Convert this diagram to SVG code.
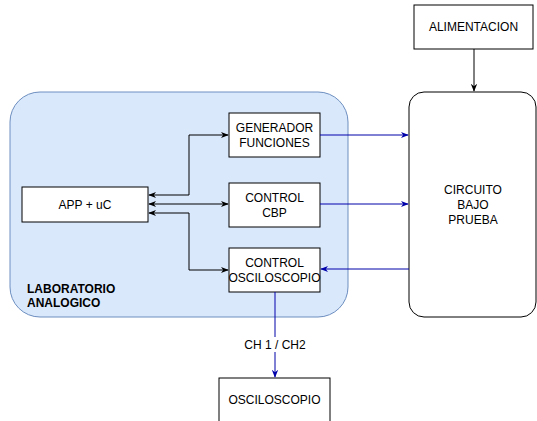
<svg xmlns="http://www.w3.org/2000/svg" width="537" height="421" viewBox="0 0 537 421">
<defs>
<style>
text{font-family:"Liberation Sans",Arial,sans-serif;font-size:12px;fill:#000;text-anchor:middle}
.box{fill:#fff;stroke:#000;stroke-width:1}
.blk{fill:none;stroke:#000;stroke-width:1}
.blu{fill:none;stroke:#0000aa;stroke-width:1}
</style>
<marker id="ab" viewBox="0 0 10 10" refX="9" refY="5" markerWidth="8" markerHeight="8" orient="auto-start-reverse" markerUnits="userSpaceOnUse"><path d="M0,1 L10,5 L0,9 L3,5 Z" fill="#000"/></marker>
<marker id="au" viewBox="0 0 10 10" refX="9" refY="5" markerWidth="8" markerHeight="8" orient="auto-start-reverse" markerUnits="userSpaceOnUse"><path d="M0,1 L10,5 L0,9 L3,5 Z" fill="#0000aa"/></marker>
</defs>
<rect width="537" height="421" fill="#fff"/>
<g id="lab">
<rect x="10" y="92" width="338" height="225" rx="30" fill="#dae8fc" stroke="#6c8ebf"/>
<text x="27" y="293" style="font-weight:bold;text-anchor:start">LABORATORIO</text>
<text x="27" y="307" style="font-weight:bold;text-anchor:start">ANALOGICO</text>
</g>
<g id="app"><rect class="box" x="22" y="187" width="126" height="35"/><text x="85" y="209">APP + uC</text></g>
<g id="gen"><rect class="box" x="229" y="113" width="91" height="44"/><text x="274.5" y="132">GENERADOR</text><text x="274.5" y="147">FUNCIONES</text></g>
<g id="cbp"><rect class="box" x="229" y="183" width="91" height="44"/><text x="274.5" y="202">CONTROL</text><text x="274.5" y="217">CBP</text></g>
<g id="osc"><rect class="box" x="229" y="248" width="91" height="44"/><text x="274.5" y="267">CONTROL</text><text x="274.5" y="282">OSCILOSCOPIO</text></g>
<g id="alim"><rect class="box" x="414" y="5" width="119" height="44"/><text x="473.5" y="31">ALIMENTACION</text></g>
<g id="cbpr"><rect class="box" x="409" y="92" width="127" height="225" rx="15"/><text x="473" y="194">CIRCUITO</text><text x="473" y="209">BAJO</text><text x="473" y="224">PRUEBA</text></g>
<g id="oscilo"><rect class="box" x="219" y="378" width="111" height="50"/><text x="274.5" y="404">OSCILOSCOPIO</text></g>
<g id="connectors">
<path class="blk" d="M149,195 H189 V135 H228" marker-start="url(#ab)" marker-end="url(#ab)"/>
<path class="blk" d="M149,204 H228" marker-start="url(#ab)" marker-end="url(#ab)"/>
<path class="blk" d="M149,213 H189 V270 H228" marker-start="url(#ab)" marker-end="url(#ab)"/>
<path class="blk" d="M474,49 V91" marker-end="url(#ab)"/>
<path class="blu" d="M320,135 H408" marker-end="url(#au)"/>
<path class="blu" d="M320,204 H408" marker-end="url(#au)"/>
<path class="blu" d="M409,269 H321" marker-end="url(#au)"/>
<path class="blu" d="M275,292 V377" marker-end="url(#au)"/>
<rect x="243" y="337" width="64" height="15" fill="#fff"/>
<text x="275" y="349">CH 1 / CH2</text>
</g>
</svg>
